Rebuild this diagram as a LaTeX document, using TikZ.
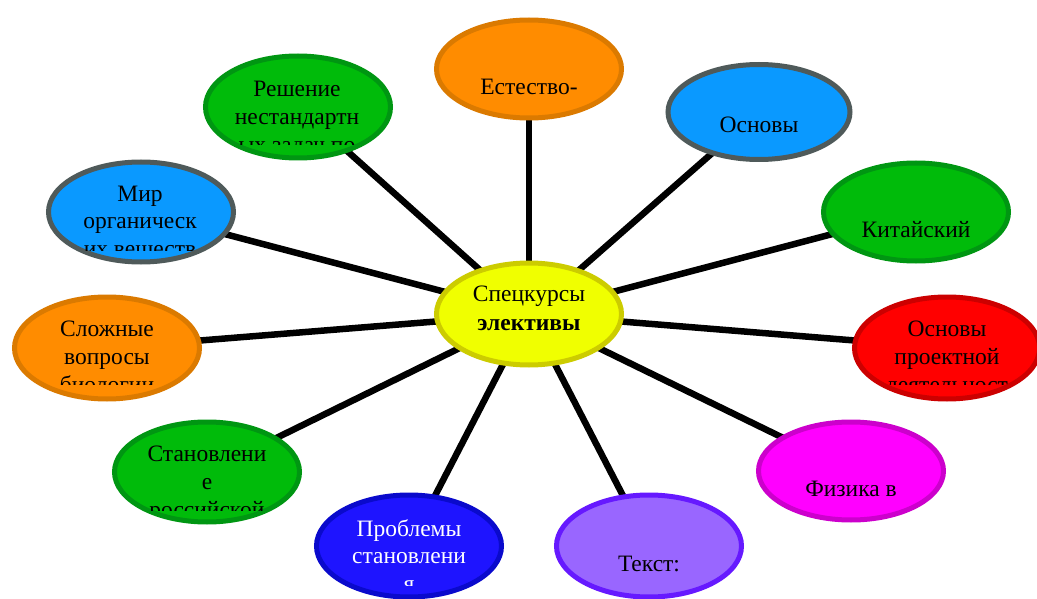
\documentclass[tikz,border=0pt]{standalone}
\usepackage{fontspec}
\setmainfont{Liberation Serif}
\usetikzlibrary{shapes.geometric,backgrounds}
\definecolor{orF}{HTML}{FF8C00}\definecolor{orD}{HTML}{DB7A00}
\definecolor{blF}{HTML}{0A99FF}\definecolor{blD}{HTML}{4F5A5A}
\definecolor{grF}{HTML}{00BB0A}\definecolor{grD}{HTML}{009612}
\definecolor{rdF}{HTML}{FF0000}\definecolor{rdD}{HTML}{CC0000}
\definecolor{mgF}{HTML}{FF00FF}\definecolor{mgD}{HTML}{CC00CC}
\definecolor{puF}{HTML}{9966FF}\definecolor{puD}{HTML}{6619FF}
\definecolor{dbF}{HTML}{1E14FF}\definecolor{dbD}{HTML}{0A0ACC}
\definecolor{yeF}{HTML}{F0FF00}\definecolor{yeD}{HTML}{CCCC00}
\tikzset{
  bubble/.style={ellipse, line width=5pt, minimum width=185pt, minimum height=98pt, inner sep=0pt},
  lbl/.style={anchor=base, inner sep=0pt, font=\fontsize{23.5}{28}\selectfont},
  link/.style={line width=6.5pt, black}
}
\begin{document}
\begin{tikzpicture}[x=1pt,y=-1pt]
\useasboundingbox (0,0) rectangle (1037,599);
\clip (0,0) rectangle (1037,599);
% bubbles
\node[bubble, fill=yeF, draw=yeD, minimum height=102pt] (c) at (529,314) {};
\node[bubble, fill=orF, draw=orD] (e1) at (529,69) {};
\node[bubble, fill=blF, draw=blD, minimum width=182pt, minimum height=95pt] (e2) at (759,112) {};
\node[bubble, fill=grF, draw=grD] (e3) at (916,212) {};
\node[bubble, fill=rdF, draw=rdD, minimum height=102pt] (e4) at (947,348) {};
\node[bubble, fill=mgF, draw=mgD] (e5) at (851,471) {};
\node[bubble, fill=puF, draw=puD, minimum height=102pt] (e6) at (649,546) {};
\node[bubble, fill=dbF, draw=dbD, minimum height=102pt] (e7) at (409,546) {};
\node[bubble, fill=grF, draw=grD, minimum height=100pt] (e8) at (207,472) {};
\node[bubble, fill=orF, draw=orD, minimum height=102pt] (e9) at (107,348) {};
\node[bubble, fill=blF, draw=blD, minimum height=100pt] (e10) at (141,212) {};
\node[bubble, fill=grF, draw=grD, minimum height=102pt] (e11) at (298,107) {};
% connectors
\begin{pgfonlayer}{background}
\foreach \n in {e1,e2,e3,e4,e5,e6,e7,e8,e9,e10,e11}
  \draw[link] (c.center) -- (\n.center);
\end{pgfonlayer}
% texts
\node[lbl] (t0a) at (529,301.5) {Спецкурсы};
\node[lbl, font=\fontsize{23.5}{28}\selectfont\bfseries] (t0b) at (529,330) {элективы};
\node[lbl] (t1) at (529,95) {Естество-};
\node[lbl] (t2) at (759,133) {Основы};
\node[lbl] (t3) at (916,237) {Китайский};
\node[lbl] (t4a) at (947,336.5) {Основы};
\node[lbl] (t4b) at (947,364) {проектной};
\begin{scope}\clip (850,300) rectangle (1037,384);
\node[lbl] (t4c) at (947,392) {деятельност};
\end{scope}
\node[lbl] (t5) at (851,496) {Физика в};
\node[lbl] (t6) at (649,571) {Текст:};
\node[lbl, text=white] (t7a) at (409,536) {Проблемы};
\node[lbl, text=white] (t7b) at (409,563) {становлени};
\begin{scope}\clip (310,500) rectangle (510,585);
\node[lbl, text=white] (t7c) at (409,591) {я};
\end{scope}
\node[lbl] (t8a) at (207,461.5) {Становлени};
\node[lbl] (t8b) at (207,489) {е};
\begin{scope}\clip (110,430) rectangle (305,510);
\node[lbl] (t8c) at (207,517) {российской};
\end{scope}
\node[lbl] (t9a) at (107,336.5) {Сложные};
\node[lbl] (t9b) at (107,364) {вопросы};
\begin{scope}\clip (10,300) rectangle (205,384);
\node[lbl] (t9c) at (107,392) {биологии};
\end{scope}
\node[lbl] (t10a) at (140,201.5) {Мир};
\node[lbl] (t10b) at (140,228.5) {органическ};
\begin{scope}\clip (40,170) rectangle (240,250);
\node[lbl] (t10c) at (140,256) {их веществ};
\end{scope}
\node[lbl] (t11a) at (297,96.5) {Решение};
\node[lbl] (t11b) at (297,125) {нестандартн};
\begin{scope}\clip (200,60) rectangle (395,145);
\node[lbl] (t11c) at (297,153) {ых задач по};
\end{scope}
\end{tikzpicture}
\end{document}
